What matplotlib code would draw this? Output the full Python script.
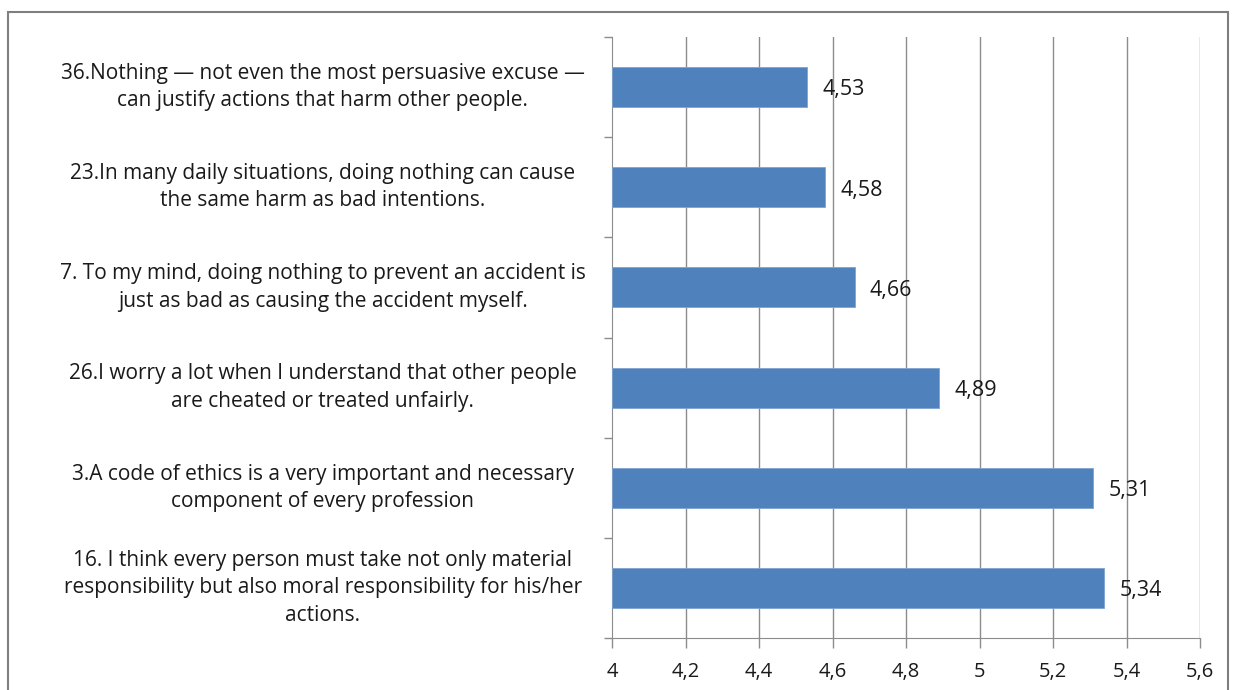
import matplotlib
matplotlib.use("Agg")
import matplotlib.pyplot as plt
from matplotlib.patches import Rectangle

categories = [
    "16. I think every person must take not only material\nresponsibility but also moral responsibility for his/her\nactions.",
    "3.A code of ethics is a very important and necessary\ncomponent of every profession",
    "26.I worry a lot when I understand that other people\nare cheated or treated unfairly.",
    "7. To my mind, doing nothing to prevent an accident is\njust as bad as causing the accident myself.",
    "23.In many daily situations, doing nothing can cause\nthe same harm as bad intentions.",
    "36.Nothing \u2014 not even the most persuasive excuse \u2014\ncan justify actions that harm other people.",
]
values = [5.34, 5.31, 4.89, 4.66, 4.58, 4.53]
value_labels = ["5,34", "5,31", "4,89", "4,66", "4,58", "4,53"]
xticks = [4.0, 4.2, 4.4, 4.6, 4.8, 5.0, 5.2, 5.4, 5.6]
xticklabels = ["4", "4,2", "4,4", "4,6", "4,8", "5", "5,2", "5,4", "5,6"]

plt.rcParams['font.family'] = ['Open Sans', 'DejaVu Sans']

W, H = 1236, 690
fig = plt.figure(figsize=(W / 100, H / 100), dpi=100)
ax = fig.add_axes([612 / W, 1 - 638 / H, (1200 - 612) / W, (638 - 37) / H])

grid_c = "#8c8c8c"
n = len(categories)
ypos = list(range(n))
ax.barh(ypos, [v - 4.0 for v in values], left=4.0, height=0.4,
        color="#4F81BD", edgecolor="#7FA3D0", linewidth=0.6, zorder=3)
ax.set_xlim(4.0, 5.6)
ax.set_ylim(-0.5, n - 0.5)

for x in xticks[1:]:
    ax.axvline(x, color=grid_c, linewidth=1.0, zorder=1)

for y, v, lab in zip(ypos, values, value_labels):
    ax.annotate(lab, (v, y), xytext=(11, -2), textcoords="offset points",
                va="center", ha="left", fontsize=15.5, color="#1a1a1a", zorder=4)

ax.set_xticks(xticks)
ax.set_xticklabels(xticklabels, fontsize=14.5, color="#1a1a1a")
ax.set_yticks([i - 0.5 for i in range(n + 1)])
ax.set_yticklabels([])
ax.tick_params(axis="y", length=6, color=grid_c, width=1)
ax.tick_params(axis="x", length=7, color=grid_c, width=1, pad=10)

for s in ["top", "right"]:
    ax.spines[s].set_visible(False)
ax.spines["left"].set_color(grid_c)
ax.spines["bottom"].set_color(grid_c)

for y, cat in zip(ypos, categories):
    ax.text(-0.492, y, cat, transform=ax.get_yaxis_transform(), ha="center", va="center",
            fontsize=15.0, color="#1a1a1a", linespacing=1.4, multialignment="center")

fig.patches.append(Rectangle((8 / W, -0.1), (1228 - 8) / W, 1.1 - 12 / H,
                             transform=fig.transFigure, fill=False,
                             edgecolor="#7f7f7f", linewidth=1.5))

fig.savefig("out.png", dpi=100)
